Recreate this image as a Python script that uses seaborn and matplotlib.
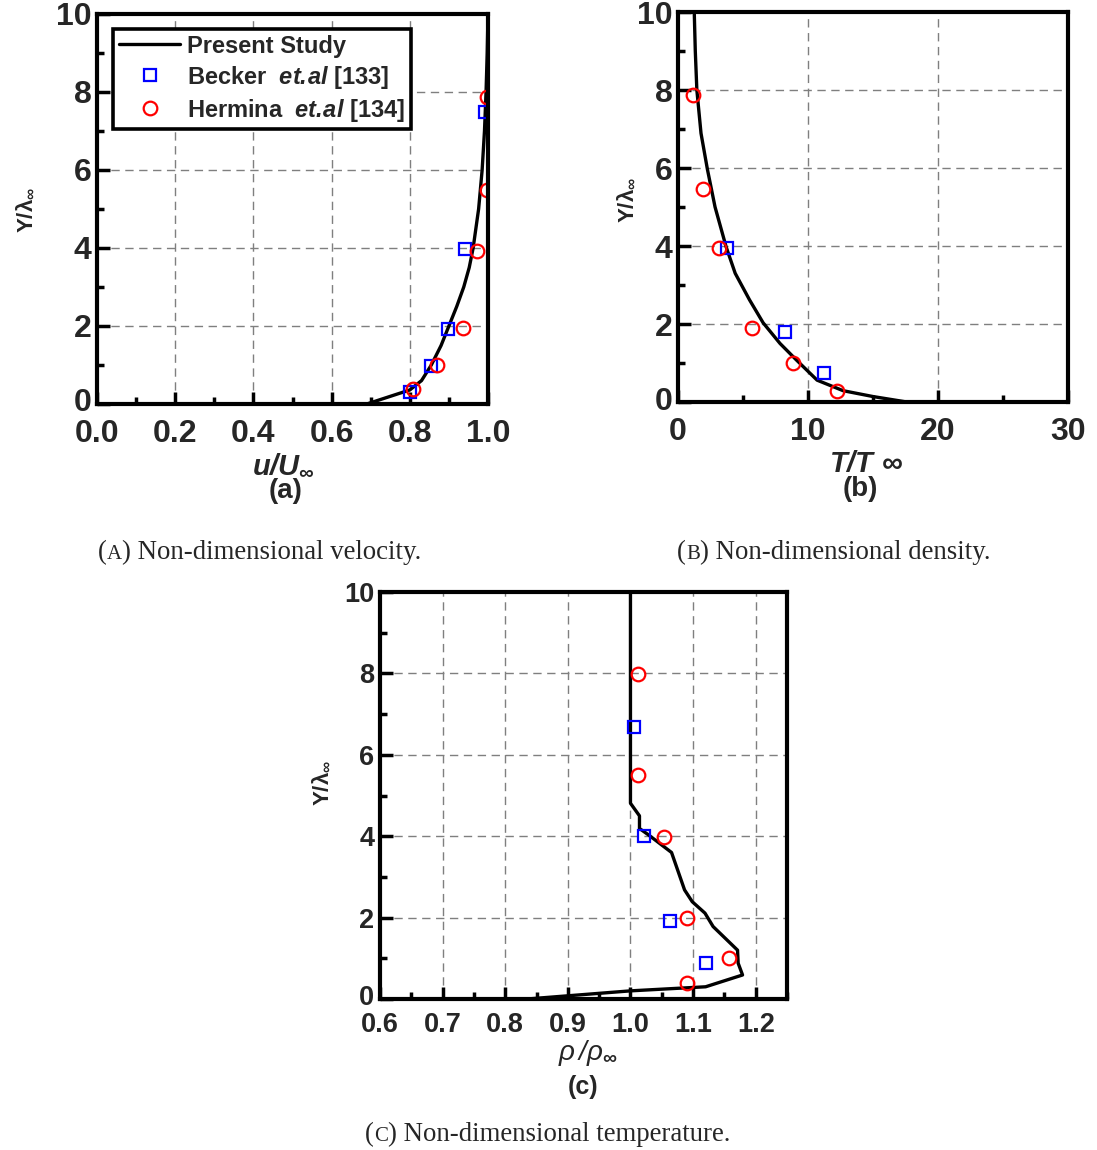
import matplotlib
matplotlib.use("Agg")
import matplotlib.pyplot as plt
from matplotlib.lines import Line2D
from matplotlib.transforms import ScaledTranslation
import seaborn as sns

# ---------------- data ----------------
# (a) non-dimensional velocity
A_LINE_U = [0.69, 0.80, 0.83, 0.855, 0.88, 0.90, 0.92, 0.938, 0.952, 0.962, 0.976, 0.985, 0.991, 0.995, 0.998, 1.0]
A_LINE_Y = [0.0, 0.36, 0.6, 1.0, 1.5, 2.0, 2.5, 3.0, 3.5, 4.0, 5.0, 6.0, 7.0, 8.0, 9.0, 10.0]
A_BECKER_U = [0.80, 0.855, 0.898, 0.94, 0.992]
A_BECKER_Y = [0.30, 0.97, 1.92, 3.98, 7.48]
A_HERMINA_U = [0.807, 0.870, 0.935, 0.971, 0.997, 0.997]
A_HERMINA_Y = [0.38, 1.00, 1.96, 3.93, 5.49, 7.88]

# (b) non-dimensional temperature ratio
B_LINE_T = [17.6, 15.0, 12.7, 10.7, 9.1, 7.85, 6.55, 5.5, 4.4, 3.7, 2.85, 2.26, 1.77, 1.45, 1.33, 1.25]
B_LINE_Y = [0.0, 0.14, 0.29, 0.56, 1.08, 1.5, 2.03, 2.62, 3.3, 3.98, 5.0, 5.97, 6.89, 8.0, 9.0, 10.0]
B_BECKER_T = [3.8, 8.2, 11.2]
B_BECKER_Y = [3.95, 1.80, 0.74]
B_HERMINA_T = [1.13, 1.95, 3.18, 5.67, 8.82, 12.2]
B_HERMINA_Y = [7.87, 5.46, 3.94, 1.89, 0.99, 0.29]

# (c) non-dimensional density ratio
C_LINE_R = [0.835, 1.0, 1.12, 1.179, 1.172, 1.171, 1.132, 1.119, 1.0987, 1.0864, 1.0656, 1.029, 1.0144, 1.0144, 1.0, 1.0]
C_LINE_Y = [0.0, 0.2, 0.30, 0.59, 0.88, 1.20, 1.78, 2.11, 2.39, 2.68, 3.60, 4.03, 4.19, 4.50, 4.81, 10.0]
C_BECKER_R = [1.005, 1.021, 1.063, 1.12]
C_BECKER_Y = [6.69, 4.0, 1.92, 0.89]
C_HERMINA_R = [1.012, 1.012, 1.054, 1.091, 1.157, 1.091]
C_HERMINA_Y = [7.98, 5.50, 3.97, 2.0, 1.0, 0.39]

Y_TICKS = [0, 2, 4, 6, 8, 10]
Y_TICK_LABELS = ["0", "2", "4", "6", "8", "10"]
A_XTICKS = [0.0, 0.2, 0.4, 0.6, 0.8, 1.0]
A_XTICK_LABELS = ["0.0", "0.2", "0.4", "0.6", "0.8", "1.0"]
B_XTICKS = [0, 10, 20, 30]
B_XTICK_LABELS = ["0", "10", "20", "30"]
C_XTICKS = [0.6, 0.7, 0.8, 0.9, 1.0, 1.1, 1.2]
C_XTICK_LABELS = ["0.6", "0.7", "0.8", "0.9", "1.0", "1.1", "1.2"]

LEGEND_LABELS = ["Present Study",
                 r"Becker  $\mathit{et.\!al}$ [133]",
                 r"Hermina  $\mathit{et.\!al}$ [134]"]

# ---------------- style ----------------
sns.set_theme(style="white")
plt.rcParams["font.family"] = ["Liberation Sans", "DejaVu Sans"]
plt.rcParams["mathtext.fontset"] = "custom"
plt.rcParams["mathtext.rm"] = "Liberation Sans:italic:bold"
plt.rcParams["mathtext.it"] = "Liberation Sans:italic:bold"
plt.rcParams["mathtext.bf"] = "Liberation Sans:bold"
plt.rcParams["mathtext.sf"] = "Liberation Sans:italic"

W, H = 1097, 1150
fig = plt.figure(figsize=(W / 100, H / 100), dpi=100)


def rect(l, t, r, b):
    return [l / W, 1 - b / H, (r - l) / W, (b - t) / H]


TICK_FAMILY = ["Liberation Sans Narrow", "Liberation Sans"]
SQ = dict(marker="s", linestyle="", mfc="none", mec="blue", ms=8.5, mew=1.6)
CI = dict(marker="o", linestyle="", mfc="none", mec="red", ms=9.8, mew=1.6)


def style_axes(ax, xlim, xticks, xlabels, xminor, tick_fs, xpad):
    ax.set_xlim(*xlim)
    ax.set_ylim(0, 10)
    ax.set_xticks(xticks, labels=xlabels, fontsize=tick_fs, fontweight="bold", family=TICK_FAMILY)
    ax.set_yticks(Y_TICKS, labels=Y_TICK_LABELS, fontsize=tick_fs, fontweight="bold", family=TICK_FAMILY)
    ax.xaxis.set_minor_locator(matplotlib.ticker.MultipleLocator(xminor))
    ax.yaxis.set_minor_locator(matplotlib.ticker.MultipleLocator(1))
    ax.tick_params(which="major", direction="in", length=9, width=2.5, color="black",
                   top=False, right=False, bottom=True, left=True)
    ax.tick_params(which="minor", direction="in", length=5, width=2.5, color="black",
                   top=False, right=False, bottom=True, left=True)
    ax.tick_params(axis="x", which="major", pad=xpad)
    ax.tick_params(axis="y", which="major", pad=4)
    for s in ax.spines.values():
        s.set_visible(True)
        s.set_linewidth(3)
        s.set_color("black")
    ax.grid(True, which="major", color="#7f7f7f", linestyle=(0, (6, 4)), linewidth=1.0)
    ax.set_axisbelow(True)
    # lift the y-axis "0" a little so it clears the first x tick label
    zero = ax.yaxis.get_major_ticks()[0].label1
    zero.set_transform(zero.get_transform() + ScaledTranslation(0, 4 / 100, fig.dpi_scale_trans))


def draw_panel(ax, lx, ly, bx, by, hx, hy):
    sns.lineplot(x=lx, y=ly, sort=False, estimator=None, color="black", lw=2.4,
                 ax=ax, label=LEGEND_LABELS[0], legend=False)
    sns.lineplot(x=bx, y=by, sort=False, estimator=None, ax=ax,
                 label=LEGEND_LABELS[1], legend=False, **SQ)
    sns.lineplot(x=hx, y=hy, sort=False, estimator=None, ax=ax,
                 label=LEGEND_LABELS[2], legend=False, **CI)


YLABEL = r"$\mathbf{Y/\lambda}_{\infty}$"
YLABEL_FS = 16

# ---------- (a) ----------
axa = fig.add_axes(rect(97, 14, 488, 404))
draw_panel(axa, A_LINE_U, A_LINE_Y, A_BECKER_U, A_BECKER_Y, A_HERMINA_U, A_HERMINA_Y)
style_axes(axa, (0, 1.0), A_XTICKS, A_XTICK_LABELS, 0.1, 23, 10.5)
axa.set_xlabel(r"$\mathit{u/U}_{\infty}$", fontsize=21)
axa.xaxis.set_label_coords(0.476, -0.122)
axa.set_ylabel(YLABEL, fontsize=YLABEL_FS)
axa.yaxis.set_label_coords(-0.153, 0.497)
axa.text(0.483, -0.190, "(a)", transform=axa.transAxes, ha="center", va="top",
         fontsize=20, fontweight="bold")
handles = [Line2D([], [], color="black", lw=2.4),
           Line2D([], [], **SQ), Line2D([], [], **CI)]
leg = axa.legend(handles, LEGEND_LABELS, loc="upper left", bbox_to_anchor=(0.041, 0.962),
                 borderaxespad=0, frameon=True, fancybox=False, framealpha=1,
                 edgecolor="black", prop=dict(size=17, weight="bold"),
                 handlelength=2.6, handletextpad=0.3, labelspacing=0.25,
                 borderpad=0.25)
leg.get_frame().set_linewidth(2.6)

# ---------- (b) ----------
axb = fig.add_axes(rect(678, 12, 1068, 402))
draw_panel(axb, B_LINE_T, B_LINE_Y, B_BECKER_T, B_BECKER_Y, B_HERMINA_T, B_HERMINA_Y)
style_axes(axb, (0, 30), B_XTICKS, B_XTICK_LABELS, 5, 23, 10.5)
axb.set_xlabel(r"$\mathit{T/T}\ \infty$", fontsize=21)
axb.xaxis.set_label_coords(0.482, -0.122)
axb.set_ylabel(YLABEL, fontsize=YLABEL_FS)
axb.yaxis.set_label_coords(-0.103, 0.518)
axb.text(0.468, -0.190, "(b)", transform=axb.transAxes, ha="center", va="top",
         fontsize=20, fontweight="bold")

# ---------- (c) ----------
axc = fig.add_axes(rect(380, 592, 787, 999))
draw_panel(axc, C_LINE_R, C_LINE_Y, C_BECKER_R, C_BECKER_Y, C_HERMINA_R, C_HERMINA_Y)
style_axes(axc, (0.6, 1.25), C_XTICKS, C_XTICK_LABELS, 0.05, 19.5, 9)
axc.set_xlabel(r"$\mathsf{\rho\,/\rho}_{\infty}$", fontsize=20)
axc.xaxis.set_label_coords(0.51, -0.097)
axc.set_ylabel(YLABEL, fontsize=YLABEL_FS)
axc.yaxis.set_label_coords(-0.115, 0.53)
axc.text(0.50, -0.187, "(c)", transform=axc.transAxes, ha="center", va="top",
         fontsize=18, fontweight="bold")

# ---------- captions with small-caps sub-figure letters ----------
renderer = fig.canvas.get_renderer()


def caption(x_px, base_px, letter, rest, size=19.3):
    x = x_px / W
    y = 1 - base_px / H
    for s, fs in (("(", size), (letter, size * 0.78), (") " + rest, size)):
        t = fig.text(x, y, s, fontsize=fs, family="Liberation Serif",
                     fontweight="normal", ha="left", va="baseline")
        x = t.get_window_extent(renderer).x1 / fig.bbox.width


caption(98, 559, "A", "Non-dimensional velocity.")
caption(677, 559, "B", "Non-dimensional density.")
caption(365, 1141, "C", "Non-dimensional temperature.")

fig.savefig("out.png", dpi=100)
